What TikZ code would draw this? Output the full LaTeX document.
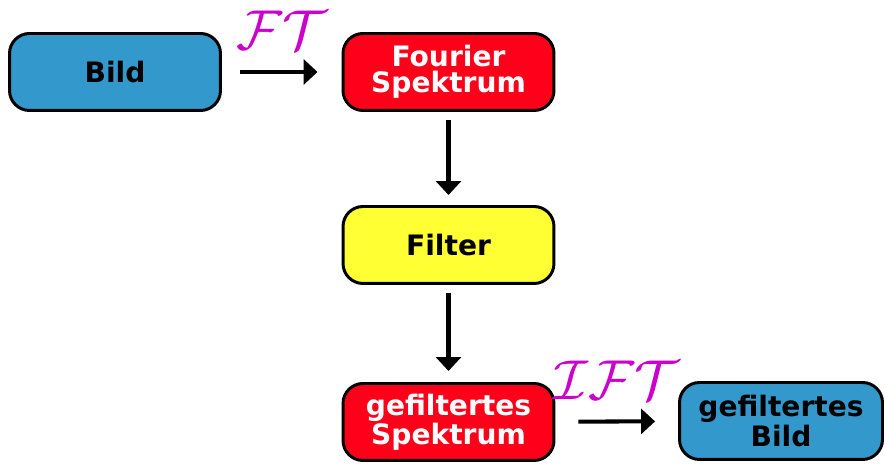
\RequirePackage{fix-cm}
\documentclass[tikz,border=0pt]{standalone}
\usepackage{fontspec}
\setmainfont{DejaVu Sans}
\usepackage{tikz}
\usetikzlibrary{positioning,arrows.meta}
\definecolor{BildBlue}{RGB}{51,153,204}
\definecolor{SpekRed}{RGB}{255,0,26}
\definecolor{FiltYellow}{RGB}{255,255,51}
\definecolor{OpMagenta}{RGB}{204,0,204}

\begin{document}
\begin{tikzpicture}[
    x=0.02cm, y=0.02cm,
    box/.style={rectangle,rounded corners=0.4cm,draw,line width=1.7pt,minimum width=4.22cm,minimum height=1.54cm,align=center,font=\fontsize{16}{14.7}\selectfont\bfseries},
    arrow/.style={line width=2.3pt,-{Triangle[length=0.28cm,width=0.5cm]}},
    oplabel/.style={text=OpMagenta,font=\fontsize{32}{32}\selectfont,midway,yshift=0.83cm}
]
\useasboundingbox (0,0) rectangle (885,465);

\node[box,fill=BildBlue] (bild) at (115,393) {Bild};
\node[box,fill=SpekRed,text=white] (fourier) at (448.5,393) {Fourier\\Spektrum};
\node[box,fill=FiltYellow] (filter) at (448.5,220) {Filter};
\node[box,fill=SpekRed,text=white] (gefspek) at (448.5,43) {gefiltertes\\Spektrum};
\node[box,fill=BildBlue,minimum width=4.06cm] (gefbild) at (781,44) {gefiltertes\\Bild};

\draw[arrow,shorten <=0.36cm,shorten >=0.48cm] (bild) -- node[oplabel] (ft) {$\mathcal{FT}$} (fourier);
\draw[arrow,shorten <=0.16cm,shorten >=0.2cm] (fourier) -- (filter);
\draw[arrow,shorten <=0.16cm,shorten >=0.22cm] (filter) -- (gefspek);
\draw[arrow,shorten <=0.46cm,shorten >=0.46cm] (gefspek) -- node[oplabel] (ift) {$\mathcal{IFT}$} (gefbild);
\end{tikzpicture}
\end{document}
